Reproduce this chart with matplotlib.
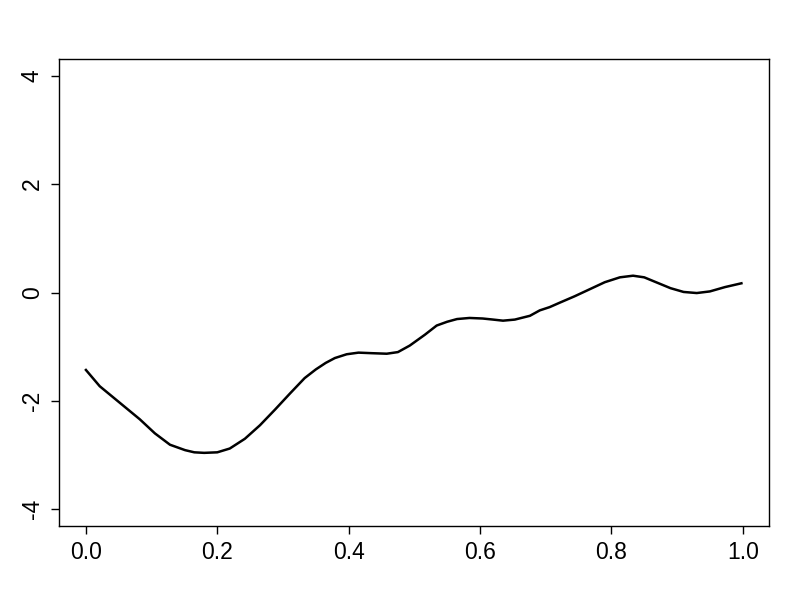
import matplotlib
matplotlib.use("Agg")
import matplotlib.pyplot as plt

x = [0.0, 0.021, 0.052, 0.082, 0.105, 0.128, 0.151, 0.165, 0.18, 0.20, 0.219, 0.242, 0.265,
     0.288, 0.311, 0.333, 0.350, 0.365, 0.379, 0.397, 0.415, 0.435, 0.458, 0.475, 0.493,
     0.516, 0.534, 0.550, 0.565, 0.584, 0.604, 0.620, 0.635, 0.653, 0.676, 0.691, 0.706,
     0.721, 0.744, 0.767, 0.790, 0.813, 0.833, 0.850, 0.870, 0.890, 0.910, 0.930, 0.950,
     0.973, 0.998]
y = [-1.43, -1.73, -2.04, -2.34, -2.60, -2.81, -2.91, -2.95, -2.96, -2.95, -2.88, -2.70, -2.45,
     -2.16, -1.86, -1.58, -1.42, -1.30, -1.21, -1.14, -1.11, -1.12, -1.13, -1.10, -0.98,
     -0.78, -0.61, -0.54, -0.49, -0.47, -0.48, -0.50, -0.52, -0.50, -0.43, -0.33, -0.27,
     -0.19, -0.07, 0.06, 0.19, 0.28, 0.31, 0.28, 0.18, 0.08, 0.01, -0.01, 0.02,
     0.10, 0.17]

xticks = [0.0, 0.2, 0.4, 0.6, 0.8, 1.0]
xticklabels = ["0.0", "0.2", "0.4", "0.6", "0.8", "1.0"]
yticks = [-4, -2, 0, 2, 4]
yticklabels = ["-4", "-2", "0", "2", "4"]

plt.rcParams['font.family'] = ['Liberation Sans', 'DejaVu Sans']
fig = plt.figure(figsize=(8, 6), dpi=100)
ax = fig.add_axes([59/800, 1 - 526/600, (769 - 59)/800, (526 - 59)/600])
ax.plot(x, y, color="black", lw=1.8)
ax.set_xlim(-0.041, 1.040)
ax.set_ylim(-4.31, 4.31)
ax.set_xticks(xticks)
ax.set_xticklabels(xticklabels, fontsize=16.5)
ax.set_yticks(yticks)
ax.set_yticklabels(yticklabels, fontsize=16.5, rotation=90, va="center")
ax.tick_params(direction="out", length=6, width=1, pad=5, colors="black")
for s in ax.spines.values():
    s.set_linewidth(1)
fig.savefig("out.png", dpi=100)
